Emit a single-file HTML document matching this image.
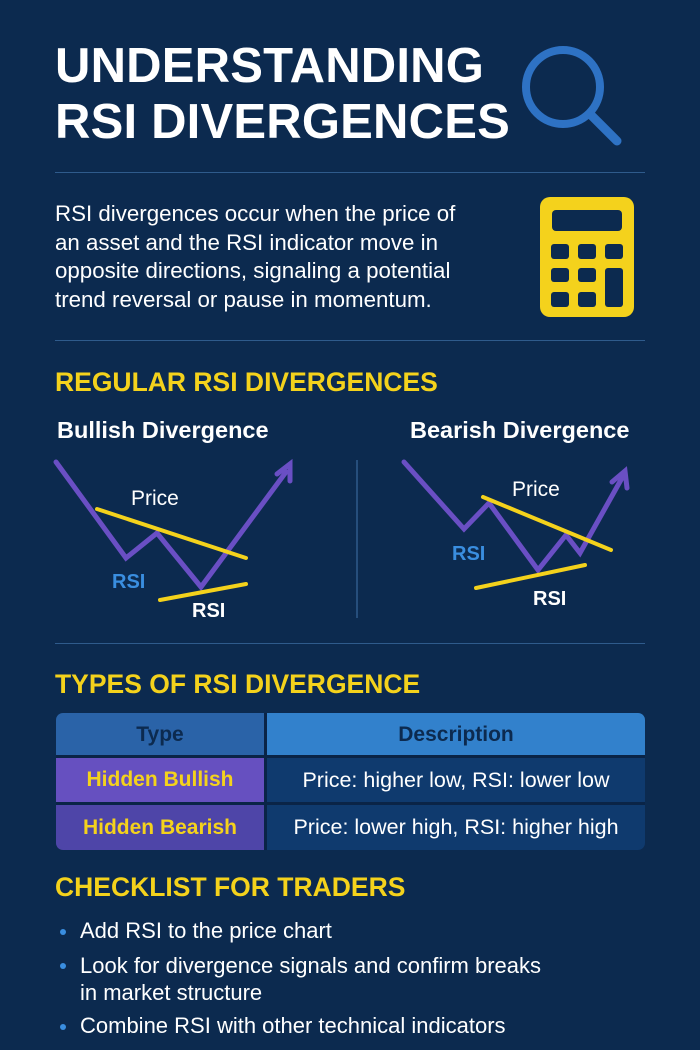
<!DOCTYPE html>
<html><head><style>
body{margin:0;width:700px;height:1050px;background:#0c2a4f;font-family:"Liberation Sans",sans-serif;position:relative;overflow:hidden}
.a{position:absolute;white-space:nowrap}
h1{position:absolute;left:55px;top:38px;margin:0;color:#fff;font-size:49px;line-height:56px;font-weight:900;letter-spacing:0.2px}
.sep{position:absolute;left:55px;width:590px;height:1px;background:#2f5b8c}
.intro{left:55px;top:200px;color:#fff;font-size:22.3px;line-height:28.5px;white-space:normal;width:420px}
.sec{color:#f4d21c;font-weight:bold;font-size:26.5px}
.sub{color:#fff;font-weight:bold;font-size:23.5px}
.li{color:#fff;font-size:22px;left:80px}
.dot{position:absolute;left:60px;width:6px;height:6px;border-radius:50%;background:#3a8ee0}
</style></head><body>
<h1>UNDERSTANDING<br>RSI DIVERGENCES</h1>
<svg class="a" style="left:0;top:0" width="700" height="1050">
<circle cx="563" cy="87" r="37" fill="none" stroke="#2e72c4" stroke-width="8"/>
<line x1="591" y1="115" x2="617" y2="141" stroke="#2e72c4" stroke-width="9" stroke-linecap="round"/>
<rect x="540" y="197" width="94" height="120" rx="10" fill="#f4d21c"/>
<rect x="552" y="210" width="70" height="21" rx="4" fill="#0c2a4f"/>
<g fill="#0c2a4f">
<rect x="551" y="244" width="18" height="15" rx="3"/><rect x="578" y="244" width="18" height="15" rx="3"/><rect x="605" y="244" width="18" height="15" rx="3"/>
<rect x="551" y="268" width="18" height="14" rx="3"/><rect x="578" y="268" width="18" height="14" rx="3"/><rect x="605" y="268" width="18" height="39" rx="3"/>
<rect x="551" y="292" width="18" height="15" rx="3"/><rect x="578" y="292" width="18" height="15" rx="3"/>
</g>
<line x1="357" y1="460" x2="357" y2="618" stroke="#2f5b8c" stroke-width="1.5"/>
<g fill="none" stroke="#6a4fc4" stroke-width="5" stroke-linejoin="miter" stroke-linecap="round">
<polyline points="56,462 126,558 157,533 201,587 286,472"/>
<polyline points="277,474 290,464 290,481"/>
<polyline points="404,462 464,529 489,503 538,570 566,535 580,553 622,478"/>
<polyline points="612,482 625,471 627,488"/>
</g>
<g stroke="#f4d21c" stroke-width="4" stroke-linecap="round">
<line x1="97" y1="509" x2="246" y2="558"/><line x1="160" y1="600" x2="246" y2="584"/>
<line x1="483" y1="497" x2="611" y2="550"/><line x1="476" y1="588" x2="585" y2="565"/>
</g>
</svg>
<div class="sep" style="top:172px"></div>
<div class="a intro">RSI divergences occur when the price of an asset and the RSI indicator move in opposite directions, signaling a potential trend reversal or pause in momentum.</div>
<div class="sep" style="top:340px"></div>
<div class="a sec" style="left:55px;top:367px">REGULAR RSI DIVERGENCES</div>
<div class="a sub" style="left:57px;top:417px">Bullish Divergence</div>
<div class="a sub" style="left:410px;top:417px">Bearish Divergence</div>
<div class="a" style="left:131px;top:487px;color:#fff;font-size:21px">Price</div>
<div class="a" style="left:112px;top:571px;color:#3a8ee0;font-size:20px;font-weight:bold">RSI</div>
<div class="a" style="left:192px;top:600px;color:#fff;font-size:20px;font-weight:bold">RSI</div>
<div class="a" style="left:512px;top:478px;color:#fff;font-size:21px">Price</div>
<div class="a" style="left:452px;top:543px;color:#3a8ee0;font-size:20px;font-weight:bold">RSI</div>
<div class="a" style="left:533px;top:588px;color:#fff;font-size:20px;font-weight:bold">RSI</div>
<div class="sep" style="top:643px"></div>
<div class="a sec" style="left:55px;top:669px">TYPES OF RSI DIVERGENCE</div>
<div class="a" style="left:56px;top:713px;width:589px;height:137px;border-radius:7px;overflow:hidden;background:#0a2447">
<div class="a" style="left:0;top:0;width:208px;height:42px;background:#2a63a8;color:#0c2a4f;font-weight:bold;font-size:21px;line-height:44px;text-align:center">Type</div>
<div class="a" style="left:211px;top:0;width:378px;height:42px;background:#3281cc;color:#0c2a4f;font-weight:bold;font-size:21px;line-height:44px;text-align:center">Description</div>
<div class="a" style="left:0;top:45px;width:208px;height:44px;background:#6650c0;color:#f4d21c;font-weight:bold;font-size:21px;line-height:44px;text-align:center">Hidden Bullish</div>
<div class="a" style="left:211px;top:45px;width:378px;height:44px;background:#0f3a6e;color:#fff;font-size:21.5px;line-height:44px;text-align:center">Price: higher low, RSI: lower low</div>
<div class="a" style="left:0;top:92px;width:208px;height:45px;background:#4e45a8;color:#f4d21c;font-weight:bold;font-size:21px;line-height:45px;text-align:center">Hidden Bearish</div>
<div class="a" style="left:211px;top:92px;width:378px;height:45px;background:#0f3a6e;color:#fff;font-size:21.5px;line-height:45px;text-align:center">Price: lower high, RSI: higher high</div>
</div>
<div class="a sec" style="left:55px;top:872px">CHECKLIST FOR TRADERS</div>
<div class="dot" style="top:929px"></div><div class="a li" style="top:918px">Add RSI to the price chart</div>
<div class="dot" style="top:963px"></div><div class="a li" style="top:952px;line-height:27px">Look for divergence signals and confirm breaks<br>in market structure</div>
<div class="dot" style="top:1024px"></div><div class="a li" style="top:1013px">Combine RSI with other technical indicators</div>
</body></html>
